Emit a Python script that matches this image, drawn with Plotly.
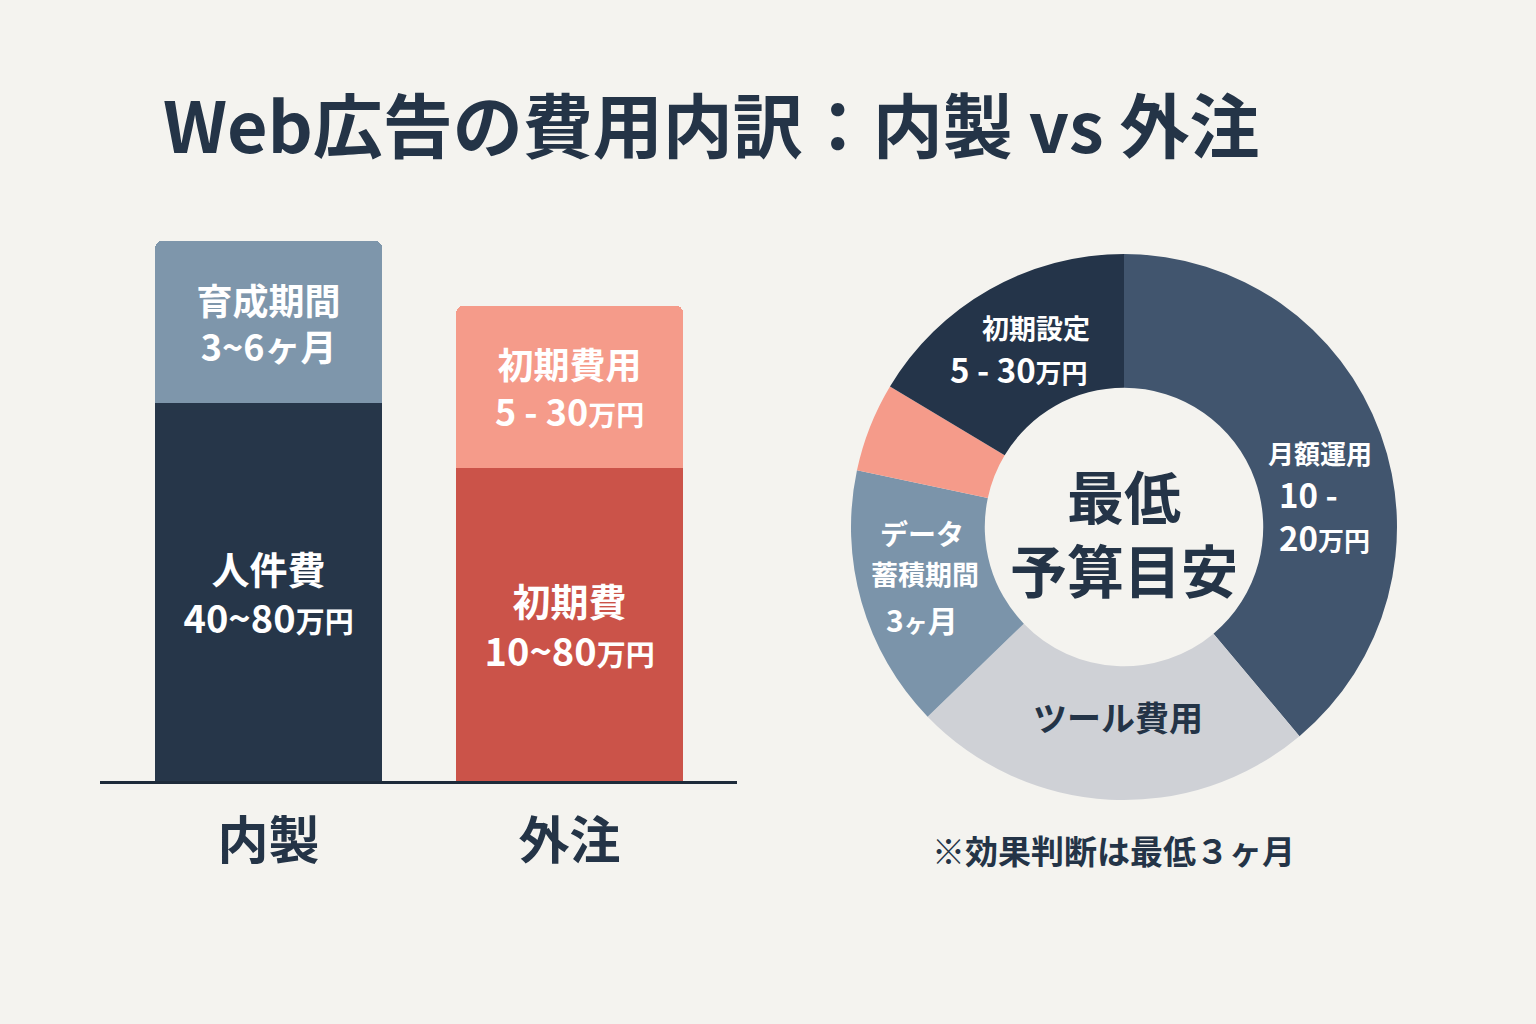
import plotly.graph_objects as go

FONT = "Noto Sans CJK JP"
DARK = "#243447"

# ---- data ----
categories = ["内製", "外注"]
base_values = [70, 58]          # 人件費 / 初期費 (relative height)
top_values = [30, 30]           # 育成期間 / 初期費用 (relative height)
base_colors = ["#263649", "#cb5349"]
top_colors = ["#7e96ab", "#f59b8a"]
base_text = ["人件費<br>40~80<span style='font-size:29px'>万円</span>",
             "初期費<br>10~80<span style='font-size:29px'>万円</span>"]
top_text = ["育成期間<br>3~6ヶ月",
            "初期費用<br>5 - 30<span style='font-size:28px'>万円</span>"]

pie_labels = ["月額運用", "ツール費用", "データ蓄積期間", "その他", "初期設定"]
pie_values = [140, 86, 56, 19, 59]
pie_colors = ["#41556e", "#cfd1d6", "#7b94aa", "#f59b8a", "#243449"]

fig = go.Figure()

fig.add_trace(go.Bar(
    x=categories, y=base_values, marker=dict(color=base_colors, line=dict(width=0)),
    text=base_text, textposition="inside", insidetextanchor="middle",
    textfont=dict(family=FONT, size=38, color="white", weight="bold"),
    constraintext="none", width=0.754, hoverinfo="skip",
))
fig.add_trace(go.Bar(
    x=categories, y=top_values, marker=dict(color=top_colors, line=dict(width=0)),
    text=top_text, textposition="inside", insidetextanchor="middle",
    textfont=dict(family=FONT, size=36, color="white", weight="bold"),
    constraintext="none", width=0.754, hoverinfo="skip",
))

fig.add_trace(go.Pie(
    labels=pie_labels, values=pie_values, hole=0.51, sort=False,
    direction="clockwise", rotation=0,
    marker=dict(colors=pie_colors, line=dict(width=0)),
    textinfo="none", hoverinfo="label",
    domain=dict(x=[851 / 1536, 1397 / 1536], y=[1 - 800 / 1024, 1 - 254 / 1024]),
))

def ann(text, x, y, size, color="white", xanchor="center", weight="bold", align="center"):
    fig.add_annotation(
        text=text, x=x / 1536, y=1 - y / 1024, xref="paper", yref="paper",
        xanchor=xanchor, yanchor="middle", showarrow=False, align=align,
        font=dict(family=FONT, size=size, color=color, weight=weight),
    )

# donut labels
ann("初期設定", 1036, 327, 27)
ann("5 - 30<span style='font-size:26px'>万円</span>", 1019, 369, 33)
ann("月額運用", 1320, 452, 26)
ann("10 -<br>20<span style='font-size:26px'>万円</span>", 1277, 515, 33,
    xanchor="left", align="left")
ann("データ", 922, 533, 28)
ann("蓄積期間", 925, 573, 27)
ann("3<span style='font-size:24px'>ヶ</span>月", 922, 619, 30)
ann("ツール費用", 1118, 716, 34, color=DARK)
ann("最低<br>予算目安", 1124, 531, 57, color=DARK)
ann("※効果判断は最低３ヶ月", 1113, 850, 33, color=DARK)

fig.update_layout(
    width=1536, height=1024,
    margin=dict(l=0, r=0, t=0, b=0),
    paper_bgcolor="#f4f3ef", plot_bgcolor="#f4f3ef",
    barmode="stack", barcornerradius=7, showlegend=False,
    title=dict(
        text="Web広告の費用内訳：内製 vs 外注",
        x=163 / 1536, xanchor="left", y=1 - 128 / 1024, yanchor="middle",
        font=dict(family=FONT, size=70, color=DARK, weight="bold"),
    ),
    xaxis=dict(
        domain=[100 / 1536, 737 / 1536], range=[-0.56, 1.556],
        showgrid=False, zeroline=False, showline=True,
        linecolor="#1e2b3a", linewidth=3, ticks="",
        tickfont=dict(family=FONT, size=51, color=DARK, weight="bold"),
        ticklabelstandoff=14, fixedrange=True,
    ),
    yaxis=dict(
        domain=[1 - 781 / 1024, 1 - 241 / 1024], range=[0, 100],
        visible=False, fixedrange=True,
    ),
)

fig.write_html("out.html")
